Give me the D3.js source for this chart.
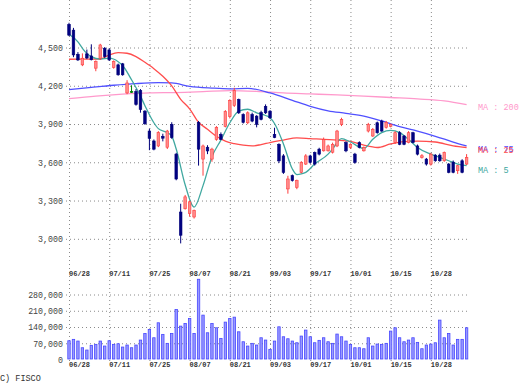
<!DOCTYPE html>
<html><head><meta charset="utf-8">
<script src="https://cdn.jsdelivr.net/npm/d3@7/dist/d3.min.js"></script>
<style>body{margin:0;background:#fff}svg{display:block}</style>
</head><body>
<script>
// ---- data ----
const tickLabels = ["06/28","07/11","07/25","08/07","08/21","09/03","09/17","10/01","10/15","10/28"];
const tickIndex = [0,9,18,27,36,45,54,63,72,81];
const priceTicks = [3000,3300,3600,3900,4200,4500];
const volumeTicks = [0,70000,140000,210000,280000];

const open  = [4677,4632,4443,4360,4446,4430,4334,4412,4490,4477,4339,4360,4368,4140,4152,4152,4158,3997,3841,3763,3724,3800,3714,3893,3660,3206,3232,3193,3167,3909,3621,3714,3621,3776,3815,3877,3955,4041,4088,3971,3906,3971,3958,3986,4035,3997,3815,3737,3646,3387,3491,3400,3517,3582,3646,3673,3699,3686,3686,3675,3724,3893,3751,3712,3660,3751,3686,3841,3802,3906,3919,3870,3878,3751,3828,3802,3751,3828,3724,3634,3621,3582,3652,3652,3608,3582,3597,3530,3608,3582];
const close = [4593,4438,4399,4412,4414,4400,4386,4516,4425,4399,4386,4282,4282,4218,4152,4049,4010,3898,3784,3699,3829,3785,3841,3790,3465,3024,3325,3286,3218,3699,3724,3685,3699,3870,3776,3994,4080,4158,3984,3909,3984,3919,3893,3932,3984,3945,3790,3607,3517,3465,3452,3452,3595,3646,3595,3582,3660,3776,3724,3737,3841,3932,3686,3737,3595,3712,3712,3893,3854,3828,3841,3909,3893,3828,3737,3737,3828,3751,3660,3647,3582,3660,3608,3608,3673,3517,3517,3569,3517,3634];
const high  = [4690,4650,4460,4450,4480,4521,4395,4525,4500,4490,4395,4370,4375,4240,4200,4170,4170,4005,3860,3775,3840,3820,3850,3910,3670,3271,3340,3295,3225,3920,3735,3730,3710,3880,3830,4005,4090,4180,4095,3980,3995,3985,3965,4000,4050,4005,3867,3745,3660,3490,3500,3460,3605,3660,3655,3680,3710,3790,3735,3750,3850,3945,3760,3745,3670,3760,3720,3905,3865,3915,3930,3920,3900,3840,3840,3810,3840,3835,3735,3660,3630,3670,3660,3665,3680,3590,3610,3575,3620,3660];
const low   = [4585,4420,4390,4350,4405,4395,4310,4400,4415,4390,4330,4275,4275,4130,4140,4040,3985,3890,3691,3690,3715,3760,3700,3780,3455,2960,3225,3170,3155,3570,3491,3660,3600,3765,3770,3870,3940,4030,3975,3900,3895,3910,3870,3925,3975,3935,3785,3590,3505,3350,3445,3385,3510,3575,3585,3570,3650,3680,3680,3665,3715,3880,3675,3700,3585,3705,3680,3830,3795,3820,3835,3860,3870,3740,3730,3730,3745,3745,3650,3625,3570,3570,3600,3600,3600,3510,3510,3505,3510,3575];
const volume = [78600,84600,77300,48500,38600,58800,63100,77300,55800,78600,63100,65700,51500,60100,48500,60100,81600,110000,127500,91500,156000,106000,67400,110000,213000,141700,153000,174800,110000,343500,189000,113000,153000,134500,88800,158900,174800,180300,117200,74300,55800,67400,60100,91500,81600,41600,77300,138700,95800,87200,77300,70000,98800,124500,95800,70000,80300,91500,74300,67400,107400,95800,77300,63100,48500,48500,44200,91500,55800,64400,63100,67400,120200,134500,91500,74300,81600,91500,71600,44200,60100,64400,70000,167500,91500,110000,60100,84600,84600,134500];

// moving averages: [bar index, value]
const ma5 = [[0,4600],[2,4540],[3,4490],[4,4450],[5,4425],[7,4406],[9,4412],[11,4385],[12,4355],[14,4243],[16,4115],[17,4040],[19,3906],[20,3860],[22,3828],[23,3802],[24,3700],[26,3420],[28,3245],[30,3413],[32,3640],[34,3770],[36,3906],[38,3997],[40,4012],[42,3984],[44,3963],[45,3945],[46,3900],[48,3740],[50,3543],[51,3500],[52,3505],[53,3517],[55,3582],[58,3660],[59,3700],[61,3782],[63,3755],[66,3704],[68,3776],[70,3828],[72,3846],[74,3828],[76,3776],[78,3712],[81,3660],[83,3634],[85,3608],[87,3582],[89,3569]];
const ma25 = [[0,4404],[4,4405],[7,4406],[9,4438],[11,4456],[13,4451],[15,4425],[17,4380],[19,4330],[21,4270],[23,4195],[25,4090],[27,4015],[29,3910],[31,3855],[33,3800],[35,3762],[37,3742],[39,3730],[41,3724],[43,3735],[45,3751],[48,3770],[51,3788],[54,3782],[57,3775],[60,3770],[63,3760],[66,3730],[69,3712],[72,3740],[75,3758],[78,3762],[82,3755],[86,3725],[89,3712]];
const ma75 = [[0,4165],[5,4183],[10,4200],[15,4213],[20,4220],[23,4218],[27,4192],[32,4178],[36,4172],[40,4176],[45,4140],[50,4082],[54,4035],[58,4000],[62,3980],[66,3958],[70,3920],[74,3875],[78,3840],[82,3800],[86,3755],[89,3724]];
const ma200 = [[0,4095],[6,4115],[12,4130],[18,4140],[24,4143],[30,4150],[36,4158],[42,4152],[48,4140],[54,4132],[60,4124],[66,4115],[72,4104],[78,4093],[84,4078],[89,4049]];
const maSeries = [
  {name:"MA : 200", pts:ma200, color:"#ff99cc", dy:2},
  {name:"MA : 75",  pts:ma75,  color:"#5050ff", dy:3},
  {name:"MA : 25",  pts:ma25,  color:"#ff4d4d", dy:3},
  {name:"MA : 5",   pts:ma5,   color:"#40a8a0", dy:4}
];

// ---- drawing ----
const W = 527, H = 390;
const svg = d3.select("body").append("svg").attr("width", W).attr("height", H)
  .style("font-family", "'Liberation Mono', monospace");

const n = open.length;
const x = d3.scaleLinear().domain([0, n - 1]).range([69, 466.6]);
const y = d3.scaleLinear().domain([3000, 4500]).range([238.3, 47]);
const yv = d3.scaleLinear().domain([0, 280000]).range([359, 294]);
const gridL = 66, gridR = 468;
const dash = "1,3", gridColor = "#8a8a8a";

// vertical grid
svg.append("g").selectAll("line").data(tickIndex).join("line")
  .attr("x1", d => x(d) + 0.5).attr("x2", d => x(d) + 0.5)
  .attr("y1", 0).attr("y2", 361)
  .attr("stroke", gridColor).attr("stroke-dasharray", dash);

// price axis
const ay = svg.append("g").attr("transform", `translate(${gridL},0)`)
  .call(d3.axisLeft(y).tickValues(priceTicks).tickFormat(d3.format(","))
    .tickSizeInner(-(gridR - gridL)).tickSizeOuter(0).tickPadding(3));
ay.select(".domain").remove();
ay.selectAll("line").attr("stroke", gridColor).attr("stroke-dasharray", dash)
  .attr("transform", "translate(0,0.5)");
ay.selectAll("text").attr("fill", "#444").style("font-size", "8.3px")
  .style("font-family", "'Liberation Mono', monospace").attr("dy", "0.4em");

// volume axis
const av = svg.append("g").attr("transform", `translate(${gridL},0)`)
  .call(d3.axisLeft(yv).tickValues(volumeTicks).tickFormat(d3.format(","))
    .tickSizeInner(-(gridR - gridL)).tickSizeOuter(0).tickPadding(3));
av.select(".domain").remove();
av.selectAll("line").attr("stroke", gridColor).attr("stroke-dasharray", dash)
  .attr("transform", "translate(0,0.5)")
  .attr("display", d => d === 0 ? "none" : null);
av.selectAll("text").attr("fill", "#444").style("font-size", "8.3px")
  .style("font-family", "'Liberation Mono', monospace").attr("dy", "0.4em");

// date labels (top of volume pane and bottom)
[275.5, 367].forEach(yy => {
  svg.append("g").selectAll("text").data(tickIndex).join("text")
    .attr("x", d => x(d)).attr("y", yy)
    .text((d, i) => tickLabels[i])
    .attr("fill", "#333").style("font-size", "7px").style("font-weight", "bold");
});

// volume bars
svg.append("g").selectAll("rect").data(volume).join("rect")
  .attr("x", (d, i) => x(i) - 1.2).attr("width", 2.4)
  .attr("y", d => yv(d)).attr("height", d => yv(0) - yv(d))
  .attr("fill", "#9a9aff").attr("stroke", "#4646ff").attr("stroke-width", 0.8);

// moving averages (under candles)
const line = d3.line().x(d => x(d[0])).y(d => y(d[1])).curve(d3.curveMonotoneX);
const maG = svg.append("g");
maSeries.forEach(s => {
  maG.append("path").attr("d", line(s.pts)).attr("fill", "none")
    .attr("stroke", s.color).attr("stroke-width", 1.3);
});

// candles
const candles = svg.append("g").selectAll("g").data(d3.range(n)).join("g");
const col = i => close[i] > open[i] ? "#ff3c3c" : (close[i] < open[i] ? "#00007a" : "#008000");
const fillc = i => close[i] > open[i] ? "#ff8a8a" : (close[i] < open[i] ? "#000080" : "#008000");
candles.append("line")
  .attr("x1", i => x(i)).attr("x2", i => x(i))
  .attr("y1", i => y(high[i])).attr("y2", i => y(low[i]))
  .attr("stroke", col).attr("stroke-width", 1);
candles.append("rect")
  .attr("x", i => x(i) - 1.3).attr("width", 2.6)
  .attr("y", i => y(Math.max(open[i], close[i])))
  .attr("height", i => Math.max(1, Math.abs(y(open[i]) - y(close[i]))))
  .attr("fill", fillc).attr("stroke", col).attr("stroke-width", 0.6);

// MA labels
svg.append("g").selectAll("text").data(maSeries).join("text")
  .attr("x", 478).attr("y", s => y(s.pts[s.pts.length - 1][1]) + s.dy + 3)
  .text(s => s.name).attr("fill", s => s.color).style("font-size", "8.5px");

// copyright
svg.append("text").attr("x", 0).attr("y", 381).text("C) FISCO")
  .attr("fill", "#333").style("font-size", "8.5px");
</script>
</body></html>
